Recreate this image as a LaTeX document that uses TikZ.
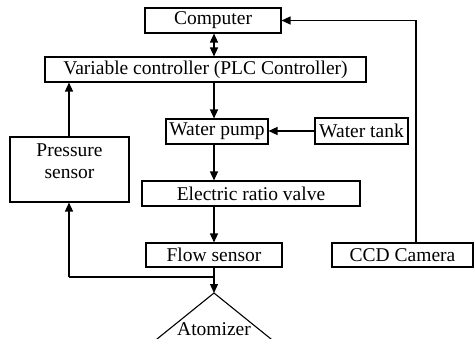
\documentclass[tikz,border=0pt]{standalone}
\usepackage{fontspec}
\setmainfont{Liberation Serif}
\usetikzlibrary{arrows.meta}
\begin{document}
\begin{tikzpicture}[x=1pt,y=-1pt,
  box/.style={draw,line width=1.1pt,inner sep=0pt,font=\fontsize{19.5}{23}\selectfont},
  conn/.style={line width=1.3pt},
  arr/.style={conn,-{Triangle[length=9pt,width=8pt]}},
  darr/.style={conn,{Triangle[length=9pt,width=8pt]}-{Triangle[length=9pt,width=8pt]}}]
\clip (0,0) rectangle (476,339);
\fill[white] (0,0) rectangle (476,339);
\node[box,minimum width=136pt,minimum height=25pt] (comp) at (213,20.5) {Computer};
\node[box,minimum width=321pt,minimum height=25pt] (plc) at (205.5,69.5) {Variable controller (PLC Controller)};
\node[box,minimum width=102pt,minimum height=25pt] (pump) at (217,131.5) {Water pump};
\node[box,minimum width=93pt,minimum height=26pt] (tank) at (361.5,131) {Water tank};
\node[box,minimum width=119pt,minimum height=65pt] (pres) at (69.5,169.5) {};
\node[font=\fontsize{19.5}{22}\selectfont,align=center,inner sep=0pt] (prestext) at (69.5,161) {Pressure\\sensor};
\node[box,minimum width=218pt,minimum height=25pt] (valve) at (251,193.5) {Electric ratio valve};
\node[box,minimum width=136pt,minimum height=24pt] (flow) at (214,255) {Flow sensor};
\node[box,minimum width=141pt,minimum height=24pt] (ccd) at (402.5,255) {CCD Camera};
\coordinate (sp) at (214,0);
\coordinate (apex) at (214,293);
\coordinate (junc) at (214,277);
\coordinate (fbl) at (69,277);
\coordinate (camx) at (416,0);
% atomizer
\draw[line width=1.1pt] (131,360) -- (apex) -- (297,360);
\node[font=\fontsize{19.5}{23}\selectfont,inner sep=0pt] (atom) at (214,329) {Atomizer};
% connectors
\draw[darr] (comp.south -| sp) -- (plc.north -| sp);
\draw[arr] (plc.south -| sp) -- (pump.north -| sp);
\draw[arr] (tank.west) -- (pump.east |- tank.west);
\draw[arr] (pump.south -| sp) -- (valve.north -| sp);
\draw[arr] (valve.south -| sp) -- (flow.north -| sp);
\draw[arr] (flow.south -| sp) -- (apex);
\draw[conn] (junc) -- (fbl);
\draw[arr] (fbl) -- (pres.south -| fbl);
\draw[arr] (pres.north -| fbl) -- (plc.south -| fbl);
\draw[arr] (ccd.north -| camx) -- (comp.east -| camx) -- (comp.east);
\end{tikzpicture}
\end{document}
